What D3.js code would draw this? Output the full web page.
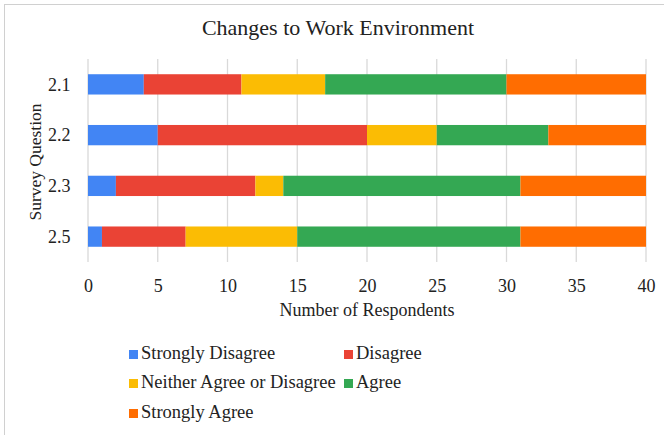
<!DOCTYPE html>
<html>
<head>
<meta charset="utf-8">
<script src="https://cdn.jsdelivr.net/npm/d3@7"></script>
<style>
  html, body { margin: 0; padding: 0; background: #fff; }
  svg { display: block; font-family: "Liberation Serif", "Times New Roman", serif; }
</style>
</head>
<body>
<svg id="chart" width="664" height="435"></svg>
<script>
// Survey questions (rows) and response counts per answer category
const questions = ["2.1", "2.2", "2.3", "2.5"];
const categories = ["Strongly Disagree", "Disagree", "Neither Agree or Disagree", "Agree", "Strongly Agree"];
const stronglyDisagree = [4, 5, 2, 1];
const disagree = [7, 15, 10, 6];
const neither = [6, 5, 2, 8];
const agree = [13, 8, 17, 16];
const stronglyAgree = [10, 7, 9, 9];
const xTicks = [0, 5, 10, 15, 20, 25, 30, 35, 40];
const colors = ["#4285F4", "#EA4335", "#FBBC04", "#34A853", "#FF6D01"];

const seriesValues = [stronglyDisagree, disagree, neither, agree, stronglyAgree];
const rows = questions.map((q, i) => {
  const r = { question: q };
  categories.forEach((c, k) => { r[c] = seriesValues[k][i]; });
  return r;
});

const svg = d3.select("#chart");
const W = 664, H = 435;
const margin = { left: 88, right: 18, top: 59, bottom: 173 };
const plotW = W - margin.left - margin.right;
const plotH = H - margin.top - margin.bottom;
const textColor = "#222";

// outer frame
svg.append("rect")
  .attr("x", 4.5).attr("y", 4.5)
  .attr("width", W + 10).attr("height", H + 10)
  .attr("fill", "none").attr("stroke", "#d0d0d0").attr("stroke-width", 1);

const x = d3.scaleLinear().domain([0, 40]).range([margin.left, margin.left + plotW]);
const y = d3.scaleBand().domain(questions).range([margin.top, margin.top + plotH]).paddingInner(0.6).paddingOuter(0.3);
const color = d3.scaleOrdinal().domain(categories).range(colors);

// vertical gridlines
svg.append("g")
  .selectAll("line")
  .data(xTicks)
  .join("line")
  .attr("x1", d => x(d)).attr("x2", d => x(d))
  .attr("y1", margin.top).attr("y2", margin.top + plotH)
  .attr("stroke", "#d9d9d9").attr("stroke-width", 1.3);

// stacked bars
const stacked = d3.stack().keys(categories)(rows);
svg.append("g")
  .selectAll("g")
  .data(stacked)
  .join("g")
  .attr("fill", d => color(d.key))
  .selectAll("rect")
  .data(d => d)
  .join("rect")
  .attr("x", d => x(d[0]))
  .attr("y", d => y(d.data.question))
  .attr("width", d => x(d[1]) - x(d[0]))
  .attr("height", y.bandwidth());

// x axis tick labels
const xAxis = d3.axisBottom(x).tickValues(xTicks).tickSize(0).tickPadding(0);
const gx = svg.append("g")
  .attr("transform", `translate(0,${margin.top + plotH})`)
  .call(xAxis);
gx.select(".domain").remove();
gx.selectAll("text")
  .attr("dy", null).attr("y", 30)
  .attr("font-family", "Liberation Serif, serif")
  .attr("font-size", 18).attr("fill", textColor);

// y axis labels
const yAxis = d3.axisLeft(y).tickSize(0).tickPadding(0);
const gy = svg.append("g")
  .attr("transform", "translate(70.5,0)")
  .call(yAxis);
gy.select(".domain").remove();
gy.selectAll("text")
  .attr("dy", "0.35em")
  .attr("font-family", "Liberation Serif, serif")
  .attr("font-size", 18).attr("fill", textColor);

// title
svg.append("text")
  .attr("x", 338).attr("y", 35)
  .attr("text-anchor", "middle")
  .attr("font-size", 22).attr("fill", textColor)
  .text("Changes to Work Environment");

// axis titles
svg.append("text")
  .attr("x", 367).attr("y", 316)
  .attr("text-anchor", "middle")
  .attr("font-size", 18).attr("fill", textColor)
  .text("Number of Respondents");

svg.append("text")
  .attr("transform", "translate(41,162) rotate(-90)")
  .attr("text-anchor", "middle")
  .attr("font-size", 17.5).attr("fill", textColor)
  .text("Survey Question");

// legend
const legendPos = [[129, 359], [344, 359], [129, 388], [344, 388], [129, 418]];
const lg = svg.append("g")
  .selectAll("g")
  .data(categories)
  .join("g")
  .attr("transform", (d, i) => `translate(${legendPos[i][0]},${legendPos[i][1]})`);
lg.append("rect")
  .attr("x", 0).attr("y", -9).attr("width", 9).attr("height", 9)
  .attr("fill", d => color(d));
lg.append("text")
  .attr("x", 12).attr("y", 0)
  .attr("font-size", 18.5).attr("fill", textColor)
  .text(d => d);
</script>
</body>
</html>
